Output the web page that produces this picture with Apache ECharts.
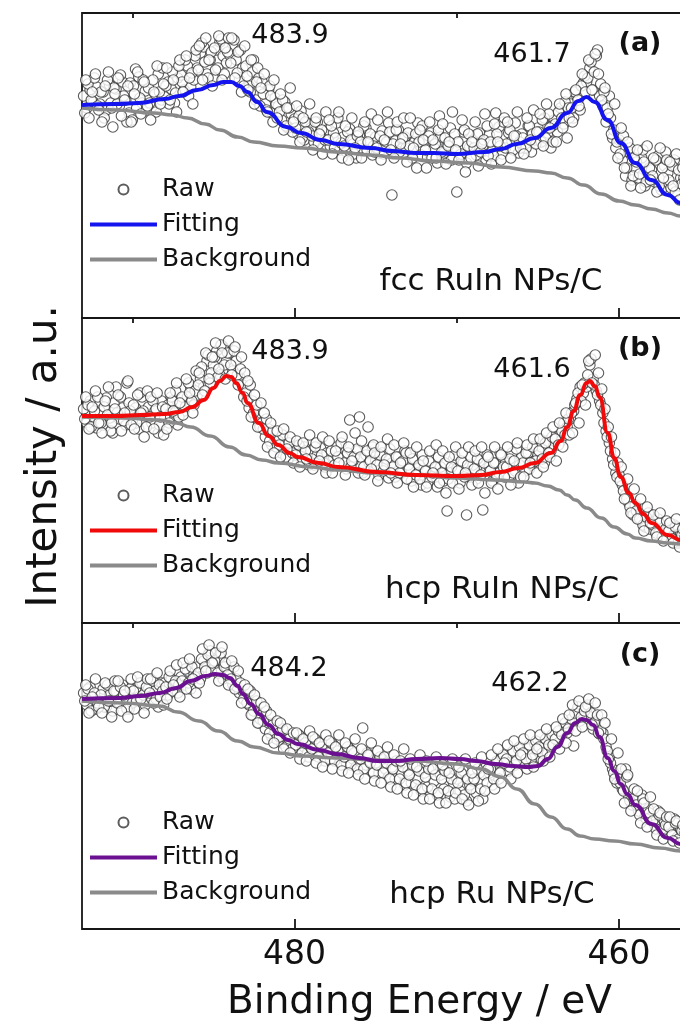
<!DOCTYPE html>
<html><head><meta charset="utf-8">
<script src="https://cdn.jsdelivr.net/npm/echarts@6/dist/echarts.min.js"></script>
<style>html,body{margin:0;padding:0;background:#fff}#c{width:680px;height:1034px}</style>
</head><body><div id="c"></div>
<script>
// Raw spectra, three interleaved scans, each 0.2 eV per point (5 points per eV).
const rawStarts = [493.0, 492.93, 492.87], rawStep = 0.2;
const rawA = [
222,210,228,216,231, 214,226,208,233,191, 229,212,236,218,205, 198,249,241,215,227,
230,211,224,244,218, 221,236,229,215,240, 243,228,252,231,238, 250,265,271,244,258,
240,268,276,262,255, 263,272,258,238,250, 252,232,246,218,240, 236,214,228,205,220,
212,198,216,190,204, 199,184,207,178,195, 190,176,196,183,171, 188,172,185,195,168,
181,166,189,174,160, 183,169,190,175,163, 181,165,187,173,195, 123,177,188,169,181,
185,167,176,195,163, 177,161,185,170,155, 181,165,173,190,160, 126,163,186,155,171,
178,163,185,172,157, 183,167,205,191,164, 170,185,177,195,165, 184,170,192,166,178,
190,176,200,185,170, 198,186,210,194,180, 214,200,222,208,235, 236,250,228,262,222,
212,196,222,180,170, 178,158,142,166,138, 150,140,160,132,146, 148,136,162,128,152,
145,130,158,122,140, 140,125,148,120,132
];
const rawA2 = [
205,234,218,240,212, 226,200,238,215,230, 214,243,222,196,235, 232,210,220,238,208,
215,238,206,226,250, 232,214,246,225,252, 236,258,222,245,262, 248,275,256,240,266,
270,250,279,244,266, 255,278,245,268,232, 242,226,258,236,212, 224,208,232,196,214,
206,218,192,210,186, 190,202,180,196,186, 182,196,174,188,178, 178,192,170,200,175,
172,186,178,164,182, 176,192,168,184,172, 170,182,164,176,186, 174,188,166,180,170,
172,160,184,176,192, 168,182,160,174,188, 166,180,172,158,184, 176,164,188,172,160,
170,184,166,178,192, 176,162,184,172,196, 174,188,168,182,176, 180,170,192,184,174,
186,198,180,204,192, 194,206,200,216,210, 210,226,218,232,242, 240,256,246,268,234,
226,210,200,188,176, 164,182,150,170,142, 156,144,168,136,150, 142,158,132,150,166,
138,152,126,148,134, 136,118,144,128,124
];
const rawA3 = [
238,200,226,244,208, 196,232,246,210,224, 240,202,218,232,196, 224,246,204,236,212,
198,226,252,214,234, 250,218,238,206,258, 226,262,240,214,268, 272,238,280,258,232,
248,282,238,270,280, 280,240,266,226,272, 228,258,214,250,230, 244,206,222,238,200,
224,188,210,230,196, 212,176,200,186,214, 168,200,184,164,206, 198,164,180,206,160,
192,158,200,170,186, 160,196,176,204,166, 198,158,178,206,168, 160,196,174,200,156,
200,170,150,188,178, 150,196,178,160,202, 194,154,176,206,168, 158,198,146,184,176,
196,152,174,204,162, 154,194,176,158,200, 196,160,182,206,170, 164,200,178,208,186,
204,172,214,190,176, 176,214,190,224,200, 196,228,212,244,226, 258,228,264,244,218,
230,204,184,214,160, 190,150,176,132,160, 168,130,156,172,138, 160,126,170,140,158,
156,132,164,118,150, 152,116,160,128,140
];
const rawB = [
214,200,222,206,195, 212,198,225,205,190, 236,204,215,198,220, 202,215,194,226,207,
216,200,212,190,222, 205,218,226,210,198, 220,212,226,236,218, 228,244,236,262,240,
258,272,248,276,262, 270,252,262,246,238, 230,215,222,205,200, 200,186,194,178,184,
182,170,178,164,172, 174,160,170,176,162, 172,158,168,175,160, 170,156,166,176,158,
166,154,203,162,172, 206,150,168,160,176, 162,148,170,156,145, 160,146,166,150,172,
158,142,164,150,138, 155,140,160,150,136, 156,142,112,150,164, 154,140,160,108,146,
158,144,162,113,152, 156,142,160,150,166, 160,146,170,152,140, 166,152,170,158,162,
168,176,160,182,172, 178,186,182,200,196, 204,212,224,236,230, 236,258,244,232,222,
210,192,180,164,150, 148,138,128,120,112, 118,108,102,96,110, 100,92,104,88,96,
94,86,98,80,90, 88,82,92,78,86
];
const rawB2 = [
204,218,196,212,226, 200,216,208,192,220, 210,226,202,240,212, 218,200,230,212,196,
206,222,214,198,216, 214,200,222,232,206, 226,216,240,222,232, 238,256,232,268,250,
266,246,278,258,270, 258,272,248,254,226, 222,238,210,218,196, 194,204,182,192,176,
178,188,166,180,170, 168,178,162,172,158, 164,176,160,168,156, 162,172,158,166,180,
160,170,156,166,174, 166,156,172,162,178, 158,168,152,164,174, 156,166,150,162,170,
154,164,148,158,168, 152,162,146,156,166, 150,160,144,156,168, 152,162,146,158,166,
154,164,148,160,168, 152,160,146,170,156, 156,164,150,174,158, 160,170,154,176,162,
172,164,180,170,186, 184,178,192,188,204, 210,218,230,222,240, 248,264,238,228,218,
200,186,172,158,146, 142,132,124,116,108, 112,104,98,106,94, 98,90,100,86,94,
92,84,96,82,88, 86,80,90,76,84
];
const rawB3 = [
226,194,216,232,200, 190,222,236,200,214, 228,192,210,242,198, 194,228,210,186,232,
226,194,230,206,188, 194,230,212,240,220, 208,244,230,210,252, 250,228,270,244,266,
280,254,270,244,282, 248,276,238,266,250, 242,206,228,196,220, 210,176,200,170,192,
166,194,174,186,160, 182,156,180,164,188, 154,180,162,186,150, 182,150,172,160,186,
148,176,162,190,150, 182,148,196,154,170, 142,176,158,184,150, 178,140,160,180,144,
170,136,176,144,162, 136,172,150,178,140, 172,130,166,140,176, 134,170,150,176,138,
172,140,176,130,166, 140,176,134,168,146, 176,138,162,180,146, 146,178,160,184,150,
184,156,190,166,196, 162,200,176,210,188, 190,220,200,238,218, 262,240,268,250,234,
214,196,186,170,160, 156,124,144,110,134, 104,124,92,116,100, 108,86,110,82,102,
100,80,104,76,94, 94,76,98,72,90
];
const rawC = [
236,224,242,230,220, 228,240,222,234,218, 238,226,244,230,220, 226,240,232,246,224,
242,230,238,222,246, 246,234,250,240,236, 252,244,258,240,256, 262,250,268,256,278,
264,258,272,250,262, 256,244,250,236,238, 232,224,214,222,206, 214,200,206,192,198,
198,186,192,184,194, 188,178,192,182,176, 184,174,188,178,170, 180,170,184,174,166,
176,166,180,170,162, 168,201,164,172,158, 166,156,170,160,152, 162,150,166,156,144,
158,146,164,150,138, 156,142,162,148,134, 154,140,160,132,146, 150,138,158,128,144,
148,136,156,130,162, 156,144,166,150,172, 168,158,176,164,180, 172,166,180,170,185,
178,170,184,176,188, 186,192,198,204,196, 206,183,218,208,214, 220,212,200,210,195,
196,182,172,160,150, 150,140,160,132,124, 128,118,134,112,120, 112,104,118,100,108,
104,96,110,92,100, 98,90,104,88,94
];
const rawC2 = [
228,240,218,236,226, 234,222,244,228,238, 226,242,234,220,240, 238,228,246,234,242,
236,248,230,244,238, 242,252,238,248,244, 248,260,246,262,252, 256,270,262,274,258,
268,256,276,262,254, 250,262,242,246,230, 226,238,218,228,210, 208,218,196,204,190,
192,200,182,190,180, 184,194,176,186,172, 180,190,172,182,168, 176,186,168,178,164,
172,182,164,176,160, 170,160,176,166,156, 164,172,156,166,150, 160,168,150,162,146,
154,164,144,158,140, 152,160,140,154,136, 150,158,138,150,130, 146,156,134,150,140,
150,160,140,154,146, 160,150,168,156,174, 170,162,178,168,182, 176,170,184,174,188,
182,176,190,184,194, 190,198,194,206,200, 210,216,222,212,218, 224,216,206,214,198,
190,178,166,156,146, 146,138,152,128,130, 124,114,130,110,116, 108,100,114,98,104,
102,94,106,90,98, 96,88,100,86,92
];
const rawC3 = [
244,216,232,250,222, 216,246,228,212,248, 248,218,238,212,250, 220,252,230,216,250,
250,226,256,232,224, 230,258,244,264,232, 266,240,270,250,236, 246,280,258,284,266,
276,248,282,266,244, 268,240,258,226,244, 240,214,234,206,226, 222,190,214,186,208,
206,180,200,176,196, 196,170,190,168,198, 192,166,186,162,194, 188,160,182,194,158,
186,156,178,190,154, 180,150,174,186,148, 178,146,172,182,142, 174,140,168,180,136,
170,134,162,174,130, 168,130,160,172,126, 164,126,156,170,136, 162,130,170,124,156,
166,128,172,138,160, 174,140,180,146,166, 184,150,188,156,174, 190,160,194,162,180,
194,168,200,172,184, 202,180,210,186,214, 224,198,228,202,222, 230,204,226,196,214,
206,170,190,150,176, 160,126,154,118,140, 138,106,126,102,132, 120,94,116,90,112,
112,88,108,86,104, 106,84,102,80,98
];

// Fitted envelopes [binding energy, intensity]
const fitA = [[493.1,213],[491.0,214],[489.6,215],[488.0,219],[487.1,222],[486.0,228],[485.0,233],[484.4,236],[483.9,236],[483.4,232],[482.9,226],[482.3,216],[481.7,206],[480.5,191],[479.6,185],[478.4,178],[477.3,174],[475.3,170],[474.0,167],[472.5,165],[471.4,165],[470.0,164],[468.3,166],[467.3,169],[466.3,174],[465.2,180],[464.2,190],[463.2,205],[462.5,217],[462.0,221],[461.5,216],[460.7,198],[459.9,175],[459.0,155],[458.0,138],[457.0,123],[456.2,115],[455.5,110]];
const bgA = [[493.1,210],[491.0,208],[488.7,205],[487.5,203],[486.6,200],[485.5,194],[484.6,188],[483.5,181],[482.5,176],[481.0,172],[479.5,170],[477.4,166],[475.3,163],[473.5,160],[471.5,157],[469.3,155],[467.3,151],[465.2,147],[464.2,145],[463.2,140],[462.2,133],[461.1,124],[460.0,117],[459.0,113],[458.0,109],[457.0,105],[456.2,102],[455.5,100]];
const fitB = [[493.1,207],[491.0,207],[489.5,208],[488.0,209],[487.1,211],[486.3,216],[485.6,223],[485.0,235],[484.6,242],[484.2,247],[483.9,246],[483.6,240],[483.2,230],[482.9,220],[482.2,200],[481.6,187],[481.0,178],[480.3,170],[479.8,166],[478.5,160],[477.3,156],[474.9,151],[472.5,148],[470.0,147],[468.5,148],[467.3,151],[466.2,155],[465.2,160],[464.2,170],[463.6,182],[463.2,196],[462.8,212],[462.4,228],[462.0,240],[461.8,242],[461.5,237],[461.2,226],[460.7,190],[460.3,165],[459.9,146],[459.4,130],[459.0,120],[458.5,109],[458.0,100],[457.0,88],[456.2,83],[455.5,80]];
const bgB = [[493.1,206],[490.5,205],[488.3,203],[487.3,200],[486.4,196],[485.2,187],[484.0,176],[483.0,168],[482.0,163],[481.0,160],[479.0,156],[477.4,153],[475.0,150],[472.5,148],[470.0,145],[467.6,143],[465.8,141],[465.2,140],[464.4,137],[463.7,133],[463.2,128],[462.7,123],[462.0,115],[461.1,105],[460.3,96],[459.5,89],[459.0,85],[458.0,82],[457.0,80],[456.2,79],[455.5,78]];
const fitC = [[493.1,230],[490.8,231],[489.5,233],[488.3,236],[487.3,241],[486.4,248],[485.5,253],[484.9,255],[484.4,254],[484.0,251],[483.5,243],[483.2,235],[482.7,225],[482.2,215],[481.6,204],[481.0,195],[480.4,189],[479.8,185],[478.5,179],[477.4,175],[476.0,171],[474.9,168],[473.7,168],[472.5,170],[471.0,171],[469.8,170],[468.8,168],[467.6,165],[466.5,163],[465.6,162],[465.0,163],[464.4,170],[463.8,182],[463.2,196],[462.7,206],[462.3,210],[462.0,209],[461.6,204],[461.2,192],[460.7,171],[460.3,158],[459.9,145],[459.5,135],[459.0,124],[458.0,105],[457.0,91],[456.2,85],[455.5,82]];
const bgC = [[493.1,228],[490.5,226],[488.3,223],[487.2,217],[485.9,208],[484.7,198],[483.5,188],[482.5,182],[481.0,176],[479.5,173],[477.4,171],[475.0,169],[472.5,168],[470.0,165],[468.5,160],[467.3,152],[466.3,140],[465.2,125],[464.2,112],[463.2,100],[462.4,93],[461.5,90],[460.3,88],[459.0,85],[457.5,81],[456.2,78],[455.5,76]];

const sampleNames = ['fcc RuIn NPs/C', 'hcp RuIn NPs/C', 'hcp Ru NPs/C'];
const panelTags = ['(a)', '(b)', '(c)'];
const peakLabels = [['483.9', '461.7'], ['483.9', '461.6'], ['484.2', '462.2']];
const legendLabels = ['Raw', 'Fitting', 'Background'];
const xMajorTicks = [460, 480];
const xMinorTicks = [470, 490];

const FONT = 'DejaVu Sans';
const fitColors = ['#1414ee', '#f00a0a', '#6c1092'];
const raws = [[rawA, rawA2, rawA3], [rawB, rawB2, rawB3], [rawC, rawC2, rawC3]];
const fits = [fitA, fitB, fitC], bgs = [bgA, bgB, bgC];
const keys = ['a', 'b', 'c'];
const gridTops = [13, 318, 623], gridH = [305, 305, 306];
const legendTops = [177, 483, 810];
const peakPos = [[[290, 36], [532, 55]], [[290, 352], [532, 370]], [[289, 669], [530, 684]]];
const tagPos = [[640, 44], [640, 349], [640, 655]];
const namePos = [[491, 282], [502, 590], [492, 895]];
const lineIcon = 'path://M0,0L67,0L67,4L0,4Z';

const grids = [], xAxes = [], yAxes = [], series = [], legends = [], graphics = [];
for (let i = 0; i < 3; i++) {
  grids.push({left: 82, top: gridTops[i], width: 675, height: gridH[i], show: true,
    outerBoundsMode: 'none', containLabel: false,
    borderColor: '#161616', borderWidth: 1.8, backgroundColor: 'rgba(0,0,0,0)'});
  const base = {gridIndex: i, type: 'value', min: 451.5, max: 493.1, inverse: true,
    axisLine: {show: false}, splitLine: {show: false}};
  xAxes.push(Object.assign({}, base, {
    axisTick: {show: true, inside: true, length: 10, customValues: xMajorTicks, lineStyle: {color: '#161616', width: 1.8}},
    axisLabel: {show: i === 2, customValues: xMajorTicks, fontSize: 33, fontFamily: FONT, color: '#111', margin: 10},
    name: i === 2 ? 'Binding Energy / eV' : '', nameLocation: 'middle', nameGap: 54,
    nameTextStyle: {fontSize: 39, fontFamily: FONT, color: '#111'}
  }));
  xAxes.push(Object.assign({}, base, {
    axisTick: {show: true, inside: true, length: 5, customValues: xMinorTicks, lineStyle: {color: '#161616', width: 1.8}},
    axisLabel: {show: false}
  }));
  yAxes.push({gridIndex: i, type: 'value', min: 0, max: gridH[i], show: true,
    axisLine: {show: false}, axisTick: {show: false}, axisLabel: {show: false}, splitLine: {show: false},
    name: i === 1 ? 'Intensity / a.u.' : '', nameLocation: 'middle', nameGap: 16, nameRotate: 90,
    nameTextStyle: {fontSize: 42, fontFamily: FONT, color: '#111', padding: [0, 0, 0, 28]}
  });
  const k = keys[i];
  let rawData = [];
  raws[i].forEach((arr, s) => {
    rawData = rawData.concat(arr.map((v, j) => [+(rawStarts[s] - j * rawStep).toFixed(2), v]));
  });
  series.push({name: k + '|Raw', type: 'scatter', xAxisIndex: 2 * i, yAxisIndex: i, data: rawData,
    symbol: 'circle', symbolSize: 10.5, z: 2, silent: true, large: false,
    itemStyle: {color: '#ffffff', borderColor: '#333333', borderWidth: 1.1}});
  series.push({name: k + '|Background', type: 'line', xAxisIndex: 2 * i, yAxisIndex: i, data: bgs[i],
    smooth: 0.5, smoothMonotone: 'x', symbol: 'none', z: 3, silent: true,
    lineStyle: {color: '#8a8a8a', width: 3.5}, itemStyle: {color: '#8a8a8a'}});
  series.push({name: k + '|Fitting', type: 'line', xAxisIndex: 2 * i, yAxisIndex: i, data: fits[i],
    smooth: 0.5, smoothMonotone: 'x', symbol: 'none', z: 4, silent: true,
    lineStyle: {color: fitColors[i], width: 4}, itemStyle: {color: fitColors[i]}});
  legends.push({orient: 'vertical', left: 90, top: legendTops[i], padding: 0, itemGap: 10,
    itemWidth: 67, itemHeight: 10, selectedMode: false,
    data: [
      {name: k + '|Raw'},
      {name: k + '|Fitting', icon: lineIcon},
      {name: k + '|Background', icon: lineIcon}
    ],
    formatter: n => n.split('|')[1],
    textStyle: {fontSize: 25, fontFamily: FONT, color: '#111'}});
  const txt = (x, y, text, size, weight) => ({type: 'text', x: x, y: y, silent: true, z: 10,
    style: {text: text, fontSize: size, fontFamily: FONT, fontWeight: weight || 'normal', fill: '#111',
      align: 'center', verticalAlign: 'middle', textAlign: 'center', textVerticalAlign: 'middle'}});
  graphics.push(txt(peakPos[i][0][0], peakPos[i][0][1], peakLabels[i][0], 27));
  graphics.push(txt(peakPos[i][1][0], peakPos[i][1][1], peakLabels[i][1], 27));
  graphics.push(txt(tagPos[i][0], tagPos[i][1], panelTags[i], 27, 'bold'));
  graphics.push(txt(namePos[i][0], namePos[i][1], sampleNames[i], 31));
}

const chart = echarts.init(document.getElementById('c'), null, {renderer: 'canvas'});
chart.setOption({
  animation: false,
  backgroundColor: '#ffffff',
  grid: grids, xAxis: xAxes, yAxis: yAxes, series: series, legend: legends,
  graphic: {elements: graphics}
});
</script></body></html>
